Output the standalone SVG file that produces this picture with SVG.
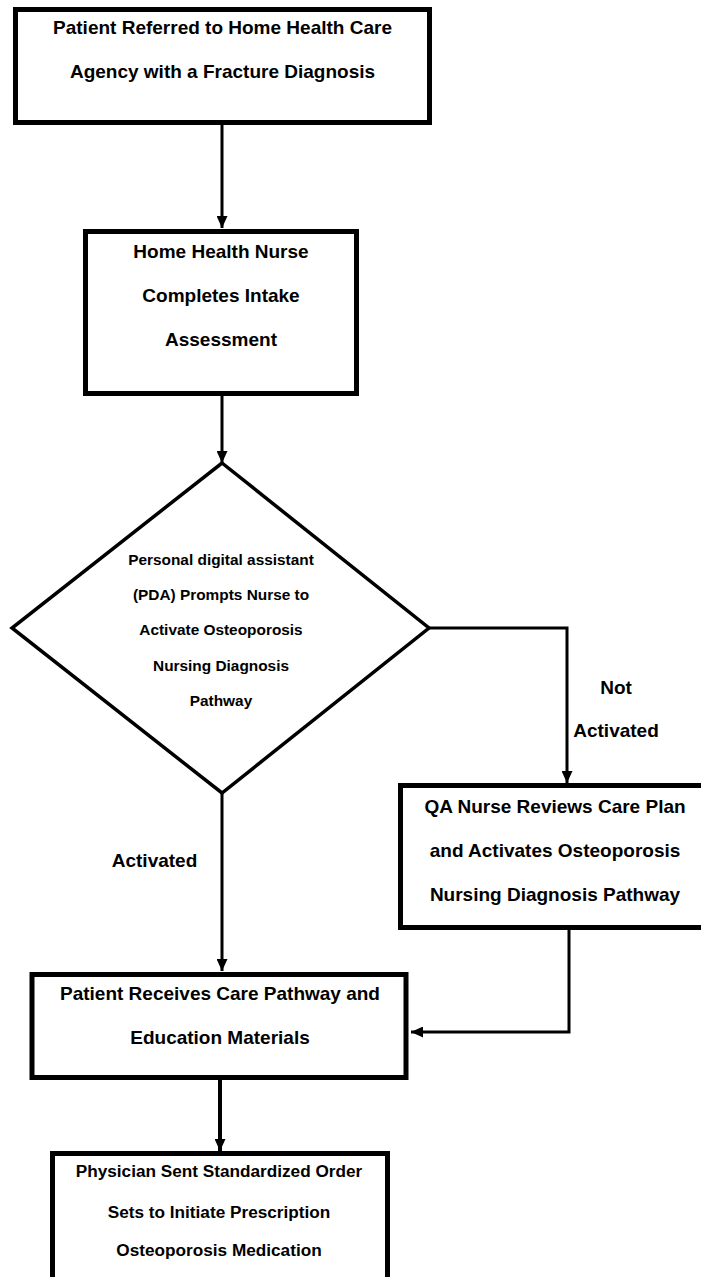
<svg xmlns="http://www.w3.org/2000/svg" width="701" height="1277" viewBox="0 0 701 1277">
<style>
.box{fill:#fff;stroke:#000;stroke-width:5}
.dia{fill:#fff;stroke:#000;stroke-width:3.5;stroke-linejoin:miter}
.t{font-family:"Liberation Sans",Arial,sans-serif;font-weight:bold;font-size:19px;fill:#000;text-anchor:middle}
.s{font-size:15.4px}
.m{font-size:17.2px}
.c{fill:none;stroke:#000;stroke-width:3;marker-end:url(#ah)}
</style>
<defs>
<marker id="ah" viewBox="0 0 12 11" refX="12" refY="5.5" markerWidth="12" markerHeight="11" orient="auto" markerUnits="userSpaceOnUse">
<path d="M0,0 L12,5.5 L0,11 z" fill="#000"/>
</marker>
</defs>
<rect width="701" height="1277" fill="#fff"/>
<g id="connectors">
<path class="c" d="M222,125 V228"/>
<path class="c" d="M222,396 V463"/>
<path class="c" d="M222,793 V971"/>
<path class="c" d="M429,628 H567 V783"/>
<path class="c" d="M569,930 V1032 H411"/>
<path class="c" d="M220,1080 V1151" style="stroke-width:4"/>
</g>
<g id="n1">
<rect class="box" x="15.5" y="9.5" width="414" height="113"/>
<text class="t" x="222.5" y="34">Patient Referred to Home Health Care</text>
<text class="t" x="222.5" y="78">Agency with a Fracture Diagnosis</text>
</g>
<g id="n2">
<rect class="box" x="85.5" y="231.5" width="271" height="162"/>
<text class="t" x="221" y="258">Home Health Nurse</text>
<text class="t" x="221" y="302">Completes Intake</text>
<text class="t" x="221" y="346">Assessment</text>
</g>
<g id="n3">
<polygon class="dia" points="222,463 429,628 222,793 12,628"/>
<text class="t s" x="221" y="565">Personal digital assistant</text>
<text class="t s" x="221" y="600">(PDA) Prompts Nurse to</text>
<text class="t s" x="221" y="635">Activate Osteoporosis</text>
<text class="t s" x="221" y="671">Nursing Diagnosis</text>
<text class="t s" x="221" y="706">Pathway</text>
</g>
<g id="lbl-not">
<text class="t" x="616" y="694">Not</text>
<text class="t" x="616" y="737">Activated</text>
</g>
<g id="lbl-act">
<text class="t" x="154.5" y="867">Activated</text>
</g>
<g id="n4">
<rect class="box" x="400.5" y="785.5" width="310" height="142"/>
<text class="t" x="555" y="813">QA Nurse Reviews Care Plan</text>
<text class="t" x="555" y="857">and Activates Osteoporosis</text>
<text class="t" x="555" y="901">Nursing Diagnosis Pathway</text>
</g>
<g id="n5">
<rect class="box" x="32" y="974.5" width="374" height="103"/>
<text class="t" x="220" y="1000">Patient Receives Care Pathway and</text>
<text class="t" x="220" y="1044">Education Materials</text>
</g>
<g id="n6">
<rect class="box" x="52.5" y="1153.5" width="335" height="140"/>
<text class="t m" x="219" y="1177">Physician Sent Standardized Order</text>
<text class="t m" x="219" y="1218">Sets to Initiate Prescription</text>
<text class="t m" x="219" y="1256">Osteoporosis Medication</text>
</g>
</svg>
